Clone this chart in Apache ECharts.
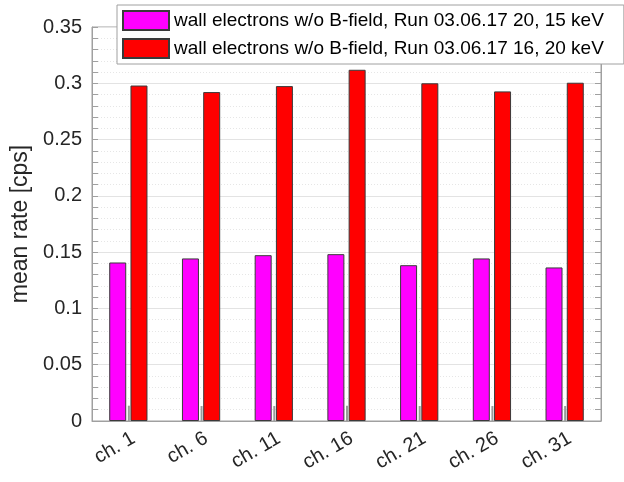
<!DOCTYPE html>
<html>
<head>
<meta charset="utf-8">
<script src="https://cdn.jsdelivr.net/npm/echarts@6/dist/echarts.min.js"></script>
<style>html,body{margin:0;padding:0;background:#fff;}#c{width:624px;height:482px;}</style>
</head>
<body>
<div id="c"></div>
<script>
const categories = ['ch. 1', 'ch. 6', 'ch. 11', 'ch. 16', 'ch. 21', 'ch. 26', 'ch. 31'];
const run20_15keV = [0.1408, 0.1444, 0.1473, 0.1482, 0.1384, 0.1444, 0.1364];
const run16_20keV = [0.2980, 0.2922, 0.2975, 0.3120, 0.3000, 0.2928, 0.3005];
const grayMarks = [0.0136, 0.0133, 0.0133, 0.0136, 0.0133, 0.0133, 0.0133];
const seriesNames = ['wall electrons w/o B-field, Run 03.06.17 20, 15 keV', 'wall electrons w/o B-field, Run 03.06.17 16, 20 keV'];
const yTicks = { min: 0, max: 0.35, interval: 0.05 };

const FONT = '"Liberation Sans", Arial, Helvetica, sans-serif';
const TXT = '#262626';
const AX = '#a0a0a0';

const chart = echarts.init(document.getElementById('c'), null, { renderer: 'canvas' });

const yBase = {
  type: 'value', min: yTicks.min, max: yTicks.max, interval: yTicks.interval,
  axisLine: { show: true, lineStyle: { color: AX, width: 1 } },
  axisTick: { show: true, inside: true, length: 6, lineStyle: { color: AX } },
  minorTick: { show: true, splitNumber: 5, length: 6, lineStyle: { color: AX } },
};

chart.setOption({
  animation: false,
  backgroundColor: '#fff',
  textStyle: { fontFamily: FONT },
  grid: { left: 92, right: 23, top: 27, bottom: 61, show: true, borderColor: AX, borderWidth: 1, backgroundColor: 'transparent' },
  legend: {
    data: seriesNames.map(n => ({ name: n, icon: 'rect' })),
    orient: 'vertical', left: 117, top: 5,
    itemWidth: 46, itemHeight: 19, itemGap: 7,
    padding: [5, 20, 5, 5],
    backgroundColor: '#fff', borderColor: '#a0a0a0', borderWidth: 1,
    textStyle: { fontFamily: FONT, fontSize: 19, color: '#000' },
    selectedMode: false, z: 10
  },
  xAxis: {
    type: 'category', data: categories,
    axisLine: { show: true, lineStyle: { color: AX } },
    axisTick: { show: false },
    axisLabel: { rotate: 30, fontSize: 20, color: TXT, fontFamily: FONT, margin: 19, padding: [0, -6, 0, 0] },
    splitLine: { show: false }
  },
  yAxis: [
    Object.assign({}, yBase, {
      position: 'left',
      name: 'mean rate [cps]', nameLocation: 'middle', nameGap: 56,
      nameTextStyle: { fontSize: 23, color: TXT, fontFamily: FONT },
      axisLabel: { fontSize: 20, color: TXT, fontFamily: FONT, margin: 10 },
      splitLine: { show: true, lineStyle: { color: '#e3e3e3', width: 1 } },
      minorSplitLine: { show: true, lineStyle: { color: '#e6e6e6', width: 1, type: [1, 2] } }
    }),
    Object.assign({}, yBase, {
      position: 'right',
      axisLabel: { show: false },
      splitLine: { show: false },
      minorSplitLine: { show: false }
    })
  ],
  series: [
    {
      name: seriesNames[0], type: 'bar', data: run20_15keV,
      barWidth: 17, barGap: '25%',
      itemStyle: { color: '#ff00ff', borderColor: '#3a3a3a', borderWidth: 1 }
    },
    {
      name: seriesNames[1], type: 'bar', data: run16_20keV,
      barWidth: 17, barGap: '25%',
      itemStyle: { color: '#ff0000', borderColor: '#3a3a3a', borderWidth: 1 }
    },
    {
      name: 'marks', type: 'custom',
      data: grayMarks.map((v, i) => [i, v]),
      encode: { x: 0, y: 1 },
      renderItem: function (params, api) {
        const base = api.coord([api.value(0), 0]);
        const top = api.coord([api.value(0), api.value(1)]);
        return {
          type: 'rect',
          shape: { x: base[0] - 0.5, y: top[1], width: 2, height: base[1] - top[1] },
          style: { fill: '#9a9a9a' }
        };
      },
      z: 3
    }
  ]
});
</script>
</body>
</html>
